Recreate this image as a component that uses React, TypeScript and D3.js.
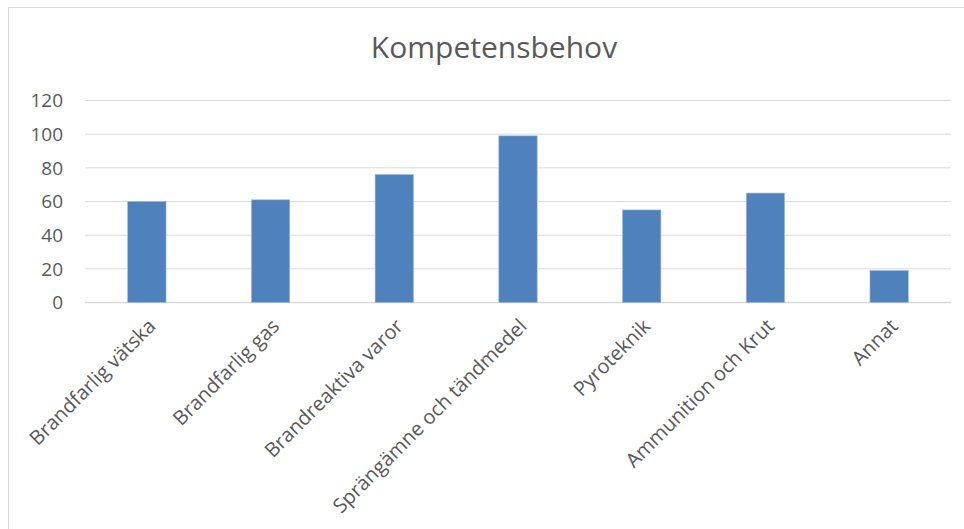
import React from "react";
import * as d3 from "d3";

const categories = [
  "Brandfarlig vätska",
  "Brandfarlig gas",
  "Brandreaktiva varor",
  "Sprängämne och tändmedel",
  "Pyroteknik",
  "Ammunition och Krut",
  "Annat",
];
const values = [60, 61, 76, 99, 55, 65, 19];
const yTicks = [0, 20, 40, 60, 80, 100, 120];
const title = "Kompetensbehov";

const W = 964;
const H = 529;
const FONT = "'Open Sans', 'Noto Sans', sans-serif";

export default function App() {
  const left = 85;
  const right = 951;
  const top = 100.5;
  const bottom = 302.5;

  const x = d3.scaleBand<string>().domain(categories).range([left, right]).paddingInner(0.69).paddingOuter(0.345);
  const y = d3.scaleLinear().domain([0, 120]).range([bottom, top]);
  const band = d3.scaleBand<string>().domain(categories).range([left, right]);

  return (
    <svg width={W} height={H} style={{ position: "absolute", left: 0, top: 0, background: "#fff" }}>
      <rect x={8.5} y={7.5} width={W} height={H} fill="#fff" stroke="#d9d9d9" strokeWidth={1} />
      <text x={494} y={58} textAnchor="middle" fontFamily={FONT} fontSize={30} fill="#595959">
        {title}
      </text>
      {yTicks.map((t) => (
        <g key={t}>
          <line x1={left} x2={right} y1={y(t)} y2={y(t)} stroke="#d9d9d9" strokeWidth={t === 0 ? 1.5 : 1} />
          <text x={63} y={y(t)} dy="0.36em" textAnchor="end" fontFamily={FONT} fontSize={19} fill="#595959">
            {t}
          </text>
        </g>
      ))}
      {categories.map((c, i) => (
        <rect
          key={c}
          x={x(c)}
          y={y(values[i])}
          width={x.bandwidth()}
          height={y(0) - y(values[i])}
          fill="#4f81bd"
          stroke="#9dbbe0"
          strokeWidth={0.6}
        />
      ))}
      {categories.map((c) => {
        const cx = (band(c) as number) + band.bandwidth() / 2 + 5;
        const cy = bottom + 20;
        return (
          <text
            key={c}
            transform={`translate(${cx},${cy}) rotate(-45)`}
            textAnchor="end"
            fontFamily={FONT}
            fontSize={20}
            fill="#595959"
            dy="0.35em"
          >
            {c}
          </text>
        );
      })}
    </svg>
  );
}
